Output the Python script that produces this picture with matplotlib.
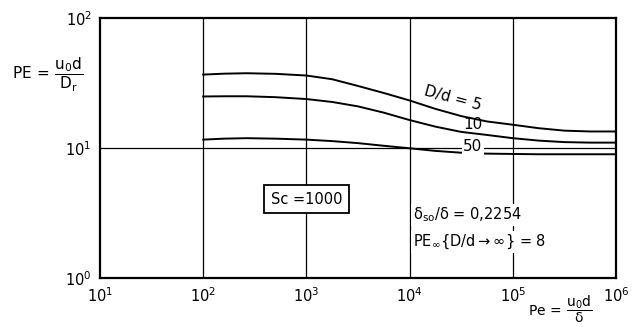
import matplotlib
matplotlib.use("Agg")
import matplotlib.pyplot as plt
import numpy as np

# Data (log10 of Pe) and PE values
log_pe = [2.0, 2.2, 2.42, 2.7, 3.0, 3.25, 3.5, 3.75, 4.0, 4.25, 4.5, 4.75, 5.0, 5.25, 5.5, 5.75, 6.0]
pe_d5 = [36.7, 37.3, 37.6, 37.2, 36.1, 33.8, 30.0, 26.5, 23.2, 20.0, 17.6, 16.0, 15.1, 14.2, 13.6, 13.4, 13.4]
pe_d10 = [24.9, 25.0, 25.0, 24.6, 23.8, 22.6, 20.9, 18.7, 16.4, 14.6, 13.3, 12.6, 11.9, 11.4, 11.1, 11.0, 11.0]
pe_d50 = [11.6, 11.8, 11.9, 11.8, 11.6, 11.3, 10.9, 10.4, 9.95, 9.5, 9.2, 9.05, 9.0, 8.95, 8.95, 8.95, 8.95]
curve_labels = ["D/d = 5", "10", "50"]

x_ticks = [1e1, 1e2, 1e3, 1e4, 1e5, 1e6]
y_ticks = [1e0, 1e1, 1e2]

fig = plt.figure(figsize=(6.37, 3.27), dpi=100)
ax = fig.add_axes([100/637, 1-278/327, 516/637, 260/327])
ax.set_xscale("log")
ax.set_yscale("log")
ax.set_xlim(1e1, 1e6)
ax.set_ylim(1e0, 1e2)

pe = 10 ** np.array(log_pe)
for ys in (pe_d5, pe_d10, pe_d50):
    ax.plot(pe, ys, color="black", lw=1.4, zorder=3, solid_joinstyle="round")

# grid lines
for xv in [1e2, 1e3, 1e4, 1e5]:
    ax.axvline(xv, color="black", lw=0.9, zorder=1)
ax.axhline(1e1, color="black", lw=0.9, zorder=1)

for s in ax.spines.values():
    s.set_linewidth(1.6)
    s.set_color("black")

ax.set_xticks(x_ticks)
ax.set_yticks(y_ticks)
ax.minorticks_off()
ax.tick_params(length=0, labelsize=10.5, pad=6)

# curve labels
ax.text(10**4.42, 24.0, curve_labels[0], rotation=-15, ha="center", va="center", fontsize=11, zorder=4)
ax.text(10**4.61, 15.2, curve_labels[1], ha="center", va="center", fontsize=11, zorder=4)
ax.text(10**4.61, 10.2, curve_labels[2], ha="center", va="center", fontsize=11, zorder=4,
        bbox=dict(facecolor="white", edgecolor="none", pad=1))

# Sc box
ax.text(1e3, 4.05, "Sc =1000", ha="center", va="center", fontsize=10.5, zorder=5,
        bbox=dict(facecolor="white", edgecolor="black", lw=1.3, boxstyle="square,pad=0.45"))

ax.text(10**4.03, 3.05, r"$\mathrm{\delta_{so}/\delta}$ = 0,2254", ha="left", va="center", fontsize=10.5, zorder=5,
        bbox=dict(facecolor="white", edgecolor="none", pad=1))
ax.text(10**4.03, 1.89, r"PE$_{\infty}${D/d$\rightarrow\infty$} = 8", ha="left", va="center", fontsize=10.5, zorder=5,
        bbox=dict(facecolor="white", edgecolor="none", pad=1))

fig.text(0.075, 0.77, r"PE$\,=\,\dfrac{\mathrm{u_0d}}{\mathrm{D_r}}$", ha="center", va="center", fontsize=11)
fig.text(0.88, 0.055, r"Pe$\,=\,\dfrac{\mathrm{u_0d}}{\mathrm{\delta}}$", ha="center", va="center", fontsize=10)

fig.savefig("out.png", dpi=100)
